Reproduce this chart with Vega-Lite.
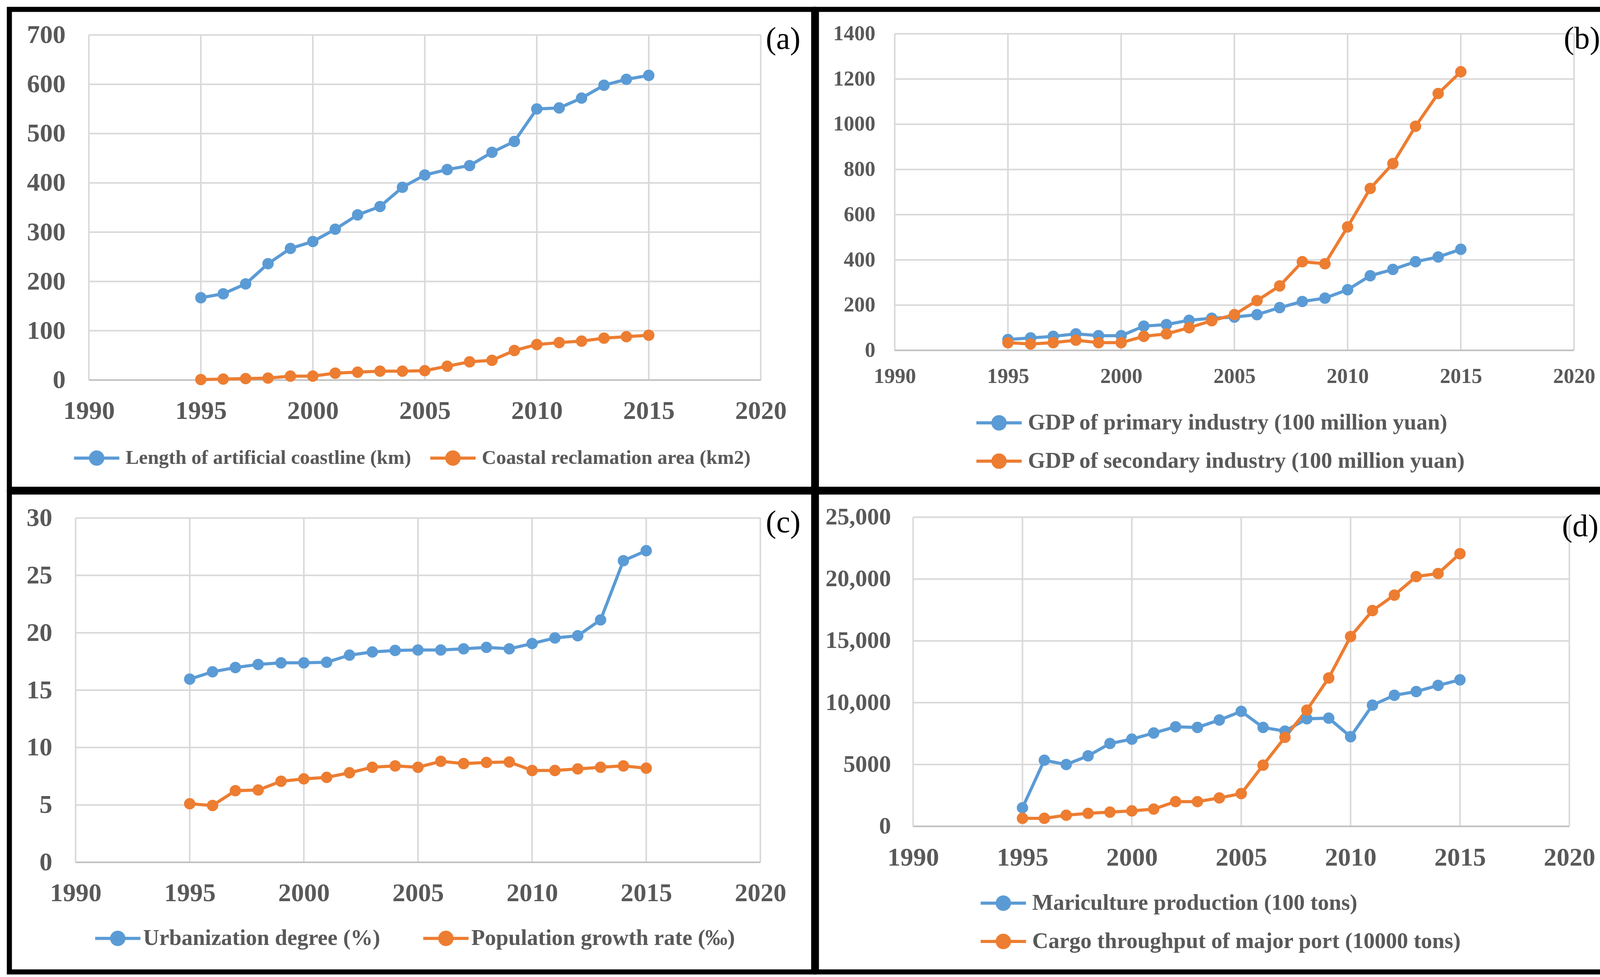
{
"$schema": "https://vega.github.io/schema/vega-lite/v6.json",
"background": "white",
"padding": {"left": 17, "top": 17, "right": 4, "bottom": 4},
"columns": 2,
"spacing": -13,
"resolve": {"scale": {"color": "independent"}, "legend": {"color": "independent"}},
"config": {
  "view": {"stroke": "#000000", "strokeWidth": 13, "fill": "#FFFFFF"},
  "axis": {"domain": false, "ticks": false, "tickSize": 0, "grid": false, "labelFont": "Liberation Serif", "labelFontWeight": "bold", "labelColor": "#595959", "labelFlush": false, "labelOverlap": false, "labelBound": false},
  "legend": {"title": null, "orient": "none", "padding": 0, "symbolType": "M-1,0L1,0M-0.27,0A0.27,0.27,0,1,1,0.27,0A0.27,0.27,0,1,1,-0.27,0Z", "symbolSize": 13456, "symbolStrokeWidth": 8, "symbolOpacity": 1, "labelFont": "Liberation Serif", "labelFontWeight": "bold", "labelColor": "#595959", "labelLimit": 3000, "labelOffset": 12}
},
"datasets": {
  "years": [{"year": 1990}, {"year": 1995}, {"year": 2000}, {"year": 2005}, {"year": 2010}, {"year": 2015}, {"year": 2020}],
  "ya": [{"v": 0}, {"v": 100}, {"v": 200}, {"v": 300}, {"v": 400}, {"v": 500}, {"v": 600}, {"v": 700}],
  "yb": [{"v": 0}, {"v": 200}, {"v": 400}, {"v": 600}, {"v": 800}, {"v": 1000}, {"v": 1200}, {"v": 1400}],
  "yc": [{"v": 0}, {"v": 5}, {"v": 10}, {"v": 15}, {"v": 20}, {"v": 25}, {"v": 30}],
  "yd": [{"v": 0}, {"v": 5000}, {"v": 10000}, {"v": 15000}, {"v": 20000}, {"v": 25000}],
  "a": [
    {"year": 1995, "series": "Length of artificial coastline (km)", "value": 167},
    {"year": 1996, "series": "Length of artificial coastline (km)", "value": 175},
    {"year": 1997, "series": "Length of artificial coastline (km)", "value": 195},
    {"year": 1998, "series": "Length of artificial coastline (km)", "value": 236},
    {"year": 1999, "series": "Length of artificial coastline (km)", "value": 267},
    {"year": 2000, "series": "Length of artificial coastline (km)", "value": 281},
    {"year": 2001, "series": "Length of artificial coastline (km)", "value": 306},
    {"year": 2002, "series": "Length of artificial coastline (km)", "value": 335},
    {"year": 2003, "series": "Length of artificial coastline (km)", "value": 352},
    {"year": 2004, "series": "Length of artificial coastline (km)", "value": 391},
    {"year": 2005, "series": "Length of artificial coastline (km)", "value": 416},
    {"year": 2006, "series": "Length of artificial coastline (km)", "value": 427},
    {"year": 2007, "series": "Length of artificial coastline (km)", "value": 435},
    {"year": 2008, "series": "Length of artificial coastline (km)", "value": 462},
    {"year": 2009, "series": "Length of artificial coastline (km)", "value": 484},
    {"year": 2010, "series": "Length of artificial coastline (km)", "value": 550},
    {"year": 2011, "series": "Length of artificial coastline (km)", "value": 552},
    {"year": 2012, "series": "Length of artificial coastline (km)", "value": 572},
    {"year": 2013, "series": "Length of artificial coastline (km)", "value": 598},
    {"year": 2014, "series": "Length of artificial coastline (km)", "value": 610},
    {"year": 2015, "series": "Length of artificial coastline (km)", "value": 618},
    {"year": 1995, "series": "Coastal reclamation area (km2)", "value": 1},
    {"year": 1996, "series": "Coastal reclamation area (km2)", "value": 2},
    {"year": 1997, "series": "Coastal reclamation area (km2)", "value": 3},
    {"year": 1998, "series": "Coastal reclamation area (km2)", "value": 4},
    {"year": 1999, "series": "Coastal reclamation area (km2)", "value": 8},
    {"year": 2000, "series": "Coastal reclamation area (km2)", "value": 8},
    {"year": 2001, "series": "Coastal reclamation area (km2)", "value": 14},
    {"year": 2002, "series": "Coastal reclamation area (km2)", "value": 16},
    {"year": 2003, "series": "Coastal reclamation area (km2)", "value": 18},
    {"year": 2004, "series": "Coastal reclamation area (km2)", "value": 18},
    {"year": 2005, "series": "Coastal reclamation area (km2)", "value": 19},
    {"year": 2006, "series": "Coastal reclamation area (km2)", "value": 28},
    {"year": 2007, "series": "Coastal reclamation area (km2)", "value": 37},
    {"year": 2008, "series": "Coastal reclamation area (km2)", "value": 40},
    {"year": 2009, "series": "Coastal reclamation area (km2)", "value": 60},
    {"year": 2010, "series": "Coastal reclamation area (km2)", "value": 72},
    {"year": 2011, "series": "Coastal reclamation area (km2)", "value": 76},
    {"year": 2012, "series": "Coastal reclamation area (km2)", "value": 79},
    {"year": 2013, "series": "Coastal reclamation area (km2)", "value": 85},
    {"year": 2014, "series": "Coastal reclamation area (km2)", "value": 88},
    {"year": 2015, "series": "Coastal reclamation area (km2)", "value": 91}
  ],
  "b": [
    {"year": 1995, "series": "GDP of primary industry (100 million yuan)", "value": 48},
    {"year": 1996, "series": "GDP of primary industry (100 million yuan)", "value": 55},
    {"year": 1997, "series": "GDP of primary industry (100 million yuan)", "value": 62},
    {"year": 1998, "series": "GDP of primary industry (100 million yuan)", "value": 73},
    {"year": 1999, "series": "GDP of primary industry (100 million yuan)", "value": 65},
    {"year": 2000, "series": "GDP of primary industry (100 million yuan)", "value": 65},
    {"year": 2001, "series": "GDP of primary industry (100 million yuan)", "value": 107},
    {"year": 2002, "series": "GDP of primary industry (100 million yuan)", "value": 114},
    {"year": 2003, "series": "GDP of primary industry (100 million yuan)", "value": 133},
    {"year": 2004, "series": "GDP of primary industry (100 million yuan)", "value": 142},
    {"year": 2005, "series": "GDP of primary industry (100 million yuan)", "value": 147},
    {"year": 2006, "series": "GDP of primary industry (100 million yuan)", "value": 158},
    {"year": 2007, "series": "GDP of primary industry (100 million yuan)", "value": 189},
    {"year": 2008, "series": "GDP of primary industry (100 million yuan)", "value": 216},
    {"year": 2009, "series": "GDP of primary industry (100 million yuan)", "value": 231},
    {"year": 2010, "series": "GDP of primary industry (100 million yuan)", "value": 268},
    {"year": 2011, "series": "GDP of primary industry (100 million yuan)", "value": 330},
    {"year": 2012, "series": "GDP of primary industry (100 million yuan)", "value": 358},
    {"year": 2013, "series": "GDP of primary industry (100 million yuan)", "value": 392},
    {"year": 2014, "series": "GDP of primary industry (100 million yuan)", "value": 413},
    {"year": 2015, "series": "GDP of primary industry (100 million yuan)", "value": 447},
    {"year": 1995, "series": "GDP of secondary industry (100 million yuan)", "value": 34},
    {"year": 1996, "series": "GDP of secondary industry (100 million yuan)", "value": 28},
    {"year": 1997, "series": "GDP of secondary industry (100 million yuan)", "value": 34},
    {"year": 1998, "series": "GDP of secondary industry (100 million yuan)", "value": 45},
    {"year": 1999, "series": "GDP of secondary industry (100 million yuan)", "value": 34},
    {"year": 2000, "series": "GDP of secondary industry (100 million yuan)", "value": 34},
    {"year": 2001, "series": "GDP of secondary industry (100 million yuan)", "value": 62},
    {"year": 2002, "series": "GDP of secondary industry (100 million yuan)", "value": 73},
    {"year": 2003, "series": "GDP of secondary industry (100 million yuan)", "value": 100},
    {"year": 2004, "series": "GDP of secondary industry (100 million yuan)", "value": 131},
    {"year": 2005, "series": "GDP of secondary industry (100 million yuan)", "value": 158},
    {"year": 2006, "series": "GDP of secondary industry (100 million yuan)", "value": 220},
    {"year": 2007, "series": "GDP of secondary industry (100 million yuan)", "value": 285},
    {"year": 2008, "series": "GDP of secondary industry (100 million yuan)", "value": 392},
    {"year": 2009, "series": "GDP of secondary industry (100 million yuan)", "value": 383},
    {"year": 2010, "series": "GDP of secondary industry (100 million yuan)", "value": 546},
    {"year": 2011, "series": "GDP of secondary industry (100 million yuan)", "value": 716},
    {"year": 2012, "series": "GDP of secondary industry (100 million yuan)", "value": 826},
    {"year": 2013, "series": "GDP of secondary industry (100 million yuan)", "value": 991},
    {"year": 2014, "series": "GDP of secondary industry (100 million yuan)", "value": 1136},
    {"year": 2015, "series": "GDP of secondary industry (100 million yuan)", "value": 1232}
  ],
  "c": [
    {"year": 1995, "series": "Urbanization degree (%)", "value": 15.96},
    {"year": 1996, "series": "Urbanization degree (%)", "value": 16.6},
    {"year": 1997, "series": "Urbanization degree (%)", "value": 16.97},
    {"year": 1998, "series": "Urbanization degree (%)", "value": 17.24},
    {"year": 1999, "series": "Urbanization degree (%)", "value": 17.38},
    {"year": 2000, "series": "Urbanization degree (%)", "value": 17.38},
    {"year": 2001, "series": "Urbanization degree (%)", "value": 17.43},
    {"year": 2002, "series": "Urbanization degree (%)", "value": 18.05},
    {"year": 2003, "series": "Urbanization degree (%)", "value": 18.33},
    {"year": 2004, "series": "Urbanization degree (%)", "value": 18.46},
    {"year": 2005, "series": "Urbanization degree (%)", "value": 18.5},
    {"year": 2006, "series": "Urbanization degree (%)", "value": 18.5},
    {"year": 2007, "series": "Urbanization degree (%)", "value": 18.6},
    {"year": 2008, "series": "Urbanization degree (%)", "value": 18.73},
    {"year": 2009, "series": "Urbanization degree (%)", "value": 18.6},
    {"year": 2010, "series": "Urbanization degree (%)", "value": 19.06},
    {"year": 2011, "series": "Urbanization degree (%)", "value": 19.55},
    {"year": 2012, "series": "Urbanization degree (%)", "value": 19.74},
    {"year": 2013, "series": "Urbanization degree (%)", "value": 21.12},
    {"year": 2014, "series": "Urbanization degree (%)", "value": 26.28},
    {"year": 2015, "series": "Urbanization degree (%)", "value": 27.15},
    {"year": 1995, "series": "Population growth rate (‰)", "value": 5.1},
    {"year": 1996, "series": "Population growth rate (‰)", "value": 4.95},
    {"year": 1997, "series": "Population growth rate (‰)", "value": 6.24},
    {"year": 1998, "series": "Population growth rate (‰)", "value": 6.3},
    {"year": 1999, "series": "Population growth rate (‰)", "value": 7.06},
    {"year": 2000, "series": "Population growth rate (‰)", "value": 7.27},
    {"year": 2001, "series": "Population growth rate (‰)", "value": 7.4},
    {"year": 2002, "series": "Population growth rate (‰)", "value": 7.8},
    {"year": 2003, "series": "Population growth rate (‰)", "value": 8.28},
    {"year": 2004, "series": "Population growth rate (‰)", "value": 8.4},
    {"year": 2005, "series": "Population growth rate (‰)", "value": 8.28},
    {"year": 2006, "series": "Population growth rate (‰)", "value": 8.8},
    {"year": 2007, "series": "Population growth rate (‰)", "value": 8.6},
    {"year": 2008, "series": "Population growth rate (‰)", "value": 8.7},
    {"year": 2009, "series": "Population growth rate (‰)", "value": 8.74},
    {"year": 2010, "series": "Population growth rate (‰)", "value": 8.0},
    {"year": 2011, "series": "Population growth rate (‰)", "value": 8.0},
    {"year": 2012, "series": "Population growth rate (‰)", "value": 8.14},
    {"year": 2013, "series": "Population growth rate (‰)", "value": 8.28},
    {"year": 2014, "series": "Population growth rate (‰)", "value": 8.4},
    {"year": 2015, "series": "Population growth rate (‰)", "value": 8.2}
  ],
  "d": [
    {"year": 1995, "series": "Mariculture production (100 tons)", "value": 1500},
    {"year": 1996, "series": "Mariculture production (100 tons)", "value": 5350},
    {"year": 1997, "series": "Mariculture production (100 tons)", "value": 5000},
    {"year": 1998, "series": "Mariculture production (100 tons)", "value": 5700},
    {"year": 1999, "series": "Mariculture production (100 tons)", "value": 6700},
    {"year": 2000, "series": "Mariculture production (100 tons)", "value": 7050},
    {"year": 2001, "series": "Mariculture production (100 tons)", "value": 7550},
    {"year": 2002, "series": "Mariculture production (100 tons)", "value": 8050},
    {"year": 2003, "series": "Mariculture production (100 tons)", "value": 8000},
    {"year": 2004, "series": "Mariculture production (100 tons)", "value": 8600},
    {"year": 2005, "series": "Mariculture production (100 tons)", "value": 9300},
    {"year": 2006, "series": "Mariculture production (100 tons)", "value": 8000},
    {"year": 2007, "series": "Mariculture production (100 tons)", "value": 7700},
    {"year": 2008, "series": "Mariculture production (100 tons)", "value": 8700},
    {"year": 2009, "series": "Mariculture production (100 tons)", "value": 8750},
    {"year": 2010, "series": "Mariculture production (100 tons)", "value": 7250},
    {"year": 2011, "series": "Mariculture production (100 tons)", "value": 9800},
    {"year": 2012, "series": "Mariculture production (100 tons)", "value": 10600},
    {"year": 2013, "series": "Mariculture production (100 tons)", "value": 10900},
    {"year": 2014, "series": "Mariculture production (100 tons)", "value": 11400},
    {"year": 2015, "series": "Mariculture production (100 tons)", "value": 11850},
    {"year": 1995, "series": "Cargo throughput of major port (10000 tons)", "value": 650},
    {"year": 1996, "series": "Cargo throughput of major port (10000 tons)", "value": 650},
    {"year": 1997, "series": "Cargo throughput of major port (10000 tons)", "value": 900},
    {"year": 1998, "series": "Cargo throughput of major port (10000 tons)", "value": 1050},
    {"year": 1999, "series": "Cargo throughput of major port (10000 tons)", "value": 1150},
    {"year": 2000, "series": "Cargo throughput of major port (10000 tons)", "value": 1250},
    {"year": 2001, "series": "Cargo throughput of major port (10000 tons)", "value": 1400},
    {"year": 2002, "series": "Cargo throughput of major port (10000 tons)", "value": 2000},
    {"year": 2003, "series": "Cargo throughput of major port (10000 tons)", "value": 2000},
    {"year": 2004, "series": "Cargo throughput of major port (10000 tons)", "value": 2300},
    {"year": 2005, "series": "Cargo throughput of major port (10000 tons)", "value": 2650},
    {"year": 2006, "series": "Cargo throughput of major port (10000 tons)", "value": 4950},
    {"year": 2007, "series": "Cargo throughput of major port (10000 tons)", "value": 7200},
    {"year": 2008, "series": "Cargo throughput of major port (10000 tons)", "value": 9400},
    {"year": 2009, "series": "Cargo throughput of major port (10000 tons)", "value": 12000},
    {"year": 2010, "series": "Cargo throughput of major port (10000 tons)", "value": 15350},
    {"year": 2011, "series": "Cargo throughput of major port (10000 tons)", "value": 17450},
    {"year": 2012, "series": "Cargo throughput of major port (10000 tons)", "value": 18700},
    {"year": 2013, "series": "Cargo throughput of major port (10000 tons)", "value": 20200},
    {"year": 2014, "series": "Cargo throughput of major port (10000 tons)", "value": 20450},
    {"year": 2015, "series": "Cargo throughput of major port (10000 tons)", "value": 22050}
  ]
},
"concat": [
  {
    "width": 2059, "height": 1228,
    "layer": [
      {"data": {"name": "years"}, "mark": {"type": "rule", "color": "#D9D9D9", "strokeWidth": 4},
       "encoding": {
         "x": {"field": "year", "type": "quantitative", "title": null, "scale": {"domain": [1986.4506, 2022.3634], "nice": false, "zero": false},
               "axis": {"values": [1990, 1995, 2000, 2005, 2010, 2015, 2020], "format": "d", "offset": -279.5, "labelPadding": 79, "labelFontSize": 66, "labelBaseline": "middle"}},
         "y": {"datum": 0, "type": "quantitative", "title": null, "scale": {"domain": [-221.57, 751.93], "nice": false, "zero": false},
               "axis": {"values": [0, 100, 200, 300, 400, 500, 600, 700], "format": "d", "offset": -203.5, "labelPadding": 60, "labelFontSize": 66}},
         "y2": {"datum": 700}}},
      {"data": {"name": "ya"}, "mark": {"type": "rule", "strokeWidth": 4},
       "encoding": {
         "y": {"field": "v", "type": "quantitative", "title": null, "scale": {"domain": [-221.57, 751.93], "nice": false, "zero": false}},
         "x": {"datum": 1990, "type": "quantitative", "title": null, "scale": {"domain": [1986.4506, 2022.3634], "nice": false, "zero": false}},
         "x2": {"datum": 2020},
         "color": {"condition": {"test": "datum.v === 0", "value": "#BFBFBF"}, "value": "#D9D9D9"}}},
      {"data": {"name": "a"}, "mark": {"type": "line", "strokeWidth": 8},
       "encoding": {
         "x": {"field": "year", "type": "quantitative", "title": null, "scale": {"domain": [1986.4506, 2022.3634], "nice": false, "zero": false}},
         "y": {"field": "value", "type": "quantitative", "title": null, "scale": {"domain": [-221.57, 751.93], "nice": false, "zero": false}},
         "color": {"field": "series", "type": "nominal", "scale": {"domain": ["Length of artificial coastline (km)", "Coastal reclamation area (km2)"], "range": ["#5B9BD5", "#ED7D31"]},
                   "legend": {"legendX": 161.5, "legendY": 1086, "direction": "horizontal", "labelFontSize": 51, "columnPadding": 33, "labelOffset": 12}}}},
      {"data": {"name": "a"}, "mark": {"type": "point", "filled": true, "size": 850, "opacity": 1},
       "encoding": {
         "x": {"field": "year", "type": "quantitative", "title": null, "scale": {"domain": [1986.4506, 2022.3634], "nice": false, "zero": false}},
         "y": {"field": "value", "type": "quantitative", "title": null, "scale": {"domain": [-221.57, 751.93], "nice": false, "zero": false}},
         "color": {"field": "series", "type": "nominal", "scale": {"domain": ["Length of artificial coastline (km)", "Coastal reclamation area (km2)"], "range": ["#5B9BD5", "#ED7D31"]},
                   "legend": {"legendX": 161.5, "legendY": 1086, "direction": "horizontal", "labelFontSize": 51, "columnPadding": 33, "labelOffset": 12}}}},
      {"data": {"values": [{"label": "(a)"}]}, "mark": {"type": "text", "font": "Liberation Serif", "fontSize": 80, "color": "#000000", "align": "center", "baseline": "middle"},
       "encoding": {
         "x": {"datum": 2021.0, "type": "quantitative", "title": null, "scale": {"domain": [1986.4506, 2022.3634], "nice": false, "zero": false}},
         "y": {"datum": 691, "type": "quantitative", "title": null, "scale": {"domain": [-221.57, 751.93], "nice": false, "zero": false}},
         "text": {"field": "label"}}}
    ]
  },
  {
    "width": 2059, "height": 1228,
    "layer": [
      {"data": {"name": "years"}, "mark": {"type": "rule", "color": "#D9D9D9", "strokeWidth": 4},
       "encoding": {
         "x": {"field": "year", "type": "quantitative", "title": null, "scale": {"domain": [1986.5411, 2022.0615], "nice": false, "zero": false},
               "axis": {"values": [1990, 1995, 2000, 2005, 2010, 2015, 2020], "format": "d", "offset": -355.5, "labelPadding": 67, "labelFontSize": 54, "labelBaseline": "middle"}},
         "y": {"datum": 0, "type": "quantitative", "title": null, "scale": {"domain": [-614.44, 1508.02], "nice": false, "zero": false},
               "axis": {"values": [0, 200, 400, 600, 800, 1000, 1200, 1400], "format": "d", "offset": -200.5, "labelPadding": 50, "labelFontSize": 54}},
         "y2": {"datum": 1400}}},
      {"data": {"name": "yb"}, "mark": {"type": "rule", "strokeWidth": 4},
       "encoding": {
         "y": {"field": "v", "type": "quantitative", "title": null, "scale": {"domain": [-614.44, 1508.02], "nice": false, "zero": false}},
         "x": {"datum": 1990, "type": "quantitative", "title": null, "scale": {"domain": [1986.5411, 2022.0615], "nice": false, "zero": false}},
         "x2": {"datum": 2020},
         "color": {"condition": {"test": "datum.v === 0", "value": "#BFBFBF"}, "value": "#D9D9D9"}}},
      {"data": {"name": "b"}, "mark": {"type": "line", "strokeWidth": 8},
       "encoding": {
         "x": {"field": "year", "type": "quantitative", "title": null, "scale": {"domain": [1986.5411, 2022.0615], "nice": false, "zero": false}},
         "y": {"field": "value", "type": "quantitative", "title": null, "scale": {"domain": [-614.44, 1508.02], "nice": false, "zero": false}},
         "color": {"field": "series", "type": "nominal", "scale": {"domain": ["GDP of primary industry (100 million yuan)", "GDP of secondary industry (100 million yuan)"], "range": ["#5B9BD5", "#ED7D31"]},
                   "legend": {"legendX": 405.5, "legendY": 996, "direction": "vertical", "labelFontSize": 57, "rowPadding": 4, "labelOffset": 12}}}},
      {"data": {"name": "b"}, "mark": {"type": "point", "filled": true, "size": 850, "opacity": 1},
       "encoding": {
         "x": {"field": "year", "type": "quantitative", "title": null, "scale": {"domain": [1986.5411, 2022.0615], "nice": false, "zero": false}},
         "y": {"field": "value", "type": "quantitative", "title": null, "scale": {"domain": [-614.44, 1508.02], "nice": false, "zero": false}},
         "color": {"field": "series", "type": "nominal", "scale": {"domain": ["GDP of primary industry (100 million yuan)", "GDP of secondary industry (100 million yuan)"], "range": ["#5B9BD5", "#ED7D31"]},
                   "legend": {"legendX": 405.5, "legendY": 996, "direction": "vertical", "labelFontSize": 57, "rowPadding": 4, "labelOffset": 12}}}},
      {"data": {"values": [{"label": "(b)"}]}, "mark": {"type": "text", "font": "Liberation Serif", "fontSize": 80, "color": "#000000", "align": "center", "baseline": "middle"},
       "encoding": {
         "x": {"datum": 2020.35, "type": "quantitative", "title": null, "scale": {"domain": [1986.5411, 2022.0615], "nice": false, "zero": false}},
         "y": {"datum": 1376, "type": "quantitative", "title": null, "scale": {"domain": [-614.44, 1508.02], "nice": false, "zero": false}},
         "text": {"field": "label"}}}
    ]
  },
  {
    "width": 2059, "height": 1228,
    "layer": [
      {"data": {"name": "years"}, "mark": {"type": "rule", "color": "#D9D9D9", "strokeWidth": 4},
       "encoding": {
         "x": {"field": "year", "type": "quantitative", "title": null, "scale": {"domain": [1987.0992, 2022.336], "nice": false, "zero": false},
               "axis": {"values": [1990, 1995, 2000, 2005, 2010, 2015, 2020], "format": "d", "offset": -280.5, "labelPadding": 79, "labelFontSize": 66, "labelBaseline": "middle"}},
         "y": {"datum": 0, "type": "quantitative", "title": null, "scale": {"domain": [-9.5516, 32.2645], "nice": false, "zero": false},
               "axis": {"values": [0, 5, 10, 15, 20, 25, 30], "format": "d", "offset": -169.5, "labelPadding": 60, "labelFontSize": 66}},
         "y2": {"datum": 30}}},
      {"data": {"name": "yc"}, "mark": {"type": "rule", "strokeWidth": 4},
       "encoding": {
         "y": {"field": "v", "type": "quantitative", "title": null, "scale": {"domain": [-9.5516, 32.2645], "nice": false, "zero": false}},
         "x": {"datum": 1990, "type": "quantitative", "title": null, "scale": {"domain": [1987.0992, 2022.336], "nice": false, "zero": false}},
         "x2": {"datum": 2020},
         "color": {"condition": {"test": "datum.v === 0", "value": "#BFBFBF"}, "value": "#D9D9D9"}}},
      {"data": {"name": "c"}, "mark": {"type": "line", "strokeWidth": 8},
       "encoding": {
         "x": {"field": "year", "type": "quantitative", "title": null, "scale": {"domain": [1987.0992, 2022.336], "nice": false, "zero": false}},
         "y": {"field": "value", "type": "quantitative", "title": null, "scale": {"domain": [-9.5516, 32.2645], "nice": false, "zero": false}},
         "color": {"field": "series", "type": "nominal", "scale": {"domain": ["Urbanization degree (%)", "Population growth rate (‰)"], "range": ["#5B9BD5", "#ED7D31"]},
                   "legend": {"legendX": 215.5, "legendY": 1080, "direction": "horizontal", "labelFontSize": 57, "columnPadding": 94, "labelOffset": 3}}}},
      {"data": {"name": "c"}, "mark": {"type": "point", "filled": true, "size": 850, "opacity": 1},
       "encoding": {
         "x": {"field": "year", "type": "quantitative", "title": null, "scale": {"domain": [1987.0992, 2022.336], "nice": false, "zero": false}},
         "y": {"field": "value", "type": "quantitative", "title": null, "scale": {"domain": [-9.5516, 32.2645], "nice": false, "zero": false}},
         "color": {"field": "series", "type": "nominal", "scale": {"domain": ["Urbanization degree (%)", "Population growth rate (‰)"], "range": ["#5B9BD5", "#ED7D31"]},
                   "legend": {"legendX": 215.5, "legendY": 1080, "direction": "horizontal", "labelFontSize": 57, "columnPadding": 94, "labelOffset": 3}}}},
      {"data": {"values": [{"label": "(c)"}]}, "mark": {"type": "text", "font": "Liberation Serif", "fontSize": 80, "color": "#000000", "align": "center", "baseline": "middle"},
       "encoding": {
         "x": {"datum": 2021.0, "type": "quantitative", "title": null, "scale": {"domain": [1987.0992, 2022.336], "nice": false, "zero": false}},
         "y": {"datum": 29.59, "type": "quantitative", "title": null, "scale": {"domain": [-9.5516, 32.2645], "nice": false, "zero": false}},
         "text": {"field": "label"}}}
    ]
  },
  {
    "width": 2059, "height": 1228,
    "layer": [
      {"data": {"name": "years"}, "mark": {"type": "rule", "color": "#D9D9D9", "strokeWidth": 4},
       "encoding": {
         "x": {"field": "year", "type": "quantitative", "title": null, "scale": {"domain": [1985.5804, 2022.3482], "nice": false, "zero": false},
               "axis": {"values": [1990, 1995, 2000, 2005, 2010, 2015, 2020], "format": "d", "offset": -372.5, "labelPadding": 80, "labelFontSize": 66, "labelBaseline": "middle"}},
         "y": {"datum": 0, "type": "quantitative", "title": null, "scale": {"domain": [-11773, 27038.6], "nice": false, "zero": false},
               "axis": {"values": [0, 5000, 10000, 15000, 20000, 25000], "labelExpr": "datum.value >= 10000 ? format(datum.value, ',') : format(datum.value, 'd')", "offset": -247.5, "labelPadding": 57, "labelFontSize": 61}},
         "y2": {"datum": 25000}}},
      {"data": {"name": "yd"}, "mark": {"type": "rule", "strokeWidth": 4},
       "encoding": {
         "y": {"field": "v", "type": "quantitative", "title": null, "scale": {"domain": [-11773, 27038.6], "nice": false, "zero": false}},
         "x": {"datum": 1990, "type": "quantitative", "title": null, "scale": {"domain": [1985.5804, 2022.3482], "nice": false, "zero": false}},
         "x2": {"datum": 2020},
         "color": {"condition": {"test": "datum.v === 0", "value": "#BFBFBF"}, "value": "#D9D9D9"}}},
      {"data": {"name": "d"}, "mark": {"type": "line", "strokeWidth": 8},
       "encoding": {
         "x": {"field": "year", "type": "quantitative", "title": null, "scale": {"domain": [1985.5804, 2022.3482], "nice": false, "zero": false}},
         "y": {"field": "value", "type": "quantitative", "title": null, "scale": {"domain": [-11773, 27038.6], "nice": false, "zero": false}},
         "color": {"field": "series", "type": "nominal", "scale": {"domain": ["Mariculture production (100 tons)", "Cargo throughput of major port (10000 tons)"], "range": ["#5B9BD5", "#ED7D31"]},
                   "legend": {"legendX": 416.5, "legendY": 990, "direction": "vertical", "labelFontSize": 57, "rowPadding": 4, "labelOffset": 12}}}},
      {"data": {"name": "d"}, "mark": {"type": "point", "filled": true, "size": 850, "opacity": 1},
       "encoding": {
         "x": {"field": "year", "type": "quantitative", "title": null, "scale": {"domain": [1985.5804, 2022.3482], "nice": false, "zero": false}},
         "y": {"field": "value", "type": "quantitative", "title": null, "scale": {"domain": [-11773, 27038.6], "nice": false, "zero": false}},
         "color": {"field": "series", "type": "nominal", "scale": {"domain": ["Mariculture production (100 tons)", "Cargo throughput of major port (10000 tons)"], "range": ["#5B9BD5", "#ED7D31"]},
                   "legend": {"legendX": 416.5, "legendY": 990, "direction": "vertical", "labelFontSize": 57, "rowPadding": 4, "labelOffset": 12}}}},
      {"data": {"values": [{"label": "(d)"}]}, "mark": {"type": "text", "font": "Liberation Serif", "fontSize": 80, "color": "#000000", "align": "center", "baseline": "middle"},
       "encoding": {
         "x": {"datum": 2020.5, "type": "quantitative", "title": null, "scale": {"domain": [1985.5804, 2022.3482], "nice": false, "zero": false}},
         "y": {"datum": 24241, "type": "quantitative", "title": null, "scale": {"domain": [-11773, 27038.6], "nice": false, "zero": false}},
         "text": {"field": "label"}}}
    ]
  }
]
}
